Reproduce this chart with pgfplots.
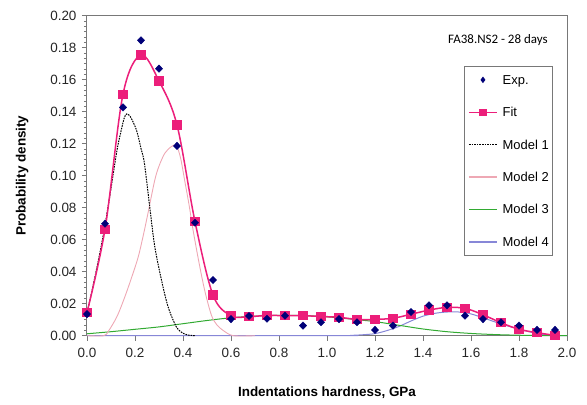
\documentclass[border=0pt]{standalone}
\usepackage{pgfplots}
\pgfplotsset{compat=1.18}
\usepackage{fontspec}
\setmainfont{Liberation Sans}
\newfontfamily\calibri{Carlito}
\definecolor{fitc}{RGB}{236,30,122}
\definecolor{expc}{RGB}{0,0,120}
\definecolor{modeltwo}{RGB}{238,168,180}
\definecolor{modelthree}{RGB}{50,170,50}
\definecolor{modelfour}{RGB}{135,135,215}
\definecolor{framec}{RGB}{120,120,120}
\begin{document}
\begin{tikzpicture}
\path (-87bp,-69.3bp) rectangle (500bp,335.7bp);
\begin{axis}[
  at={(0,0)}, anchor=south west,
  scale only axis, width=480bp, height=320bp,
  xmin=0, xmax=2, ymin=0, ymax=0.2,
  clip=false,
  xtick={0,0.2,0.4,0.6,0.8,1,1.2,1.4,1.6,1.8,2},
  ytick={0,0.02,0.04,0.06,0.08,0.1,0.12,0.14,0.16,0.18,0.2},
  minor y tick num=5,
  /pgf/number format/assume math mode=true,
  xticklabel style={/pgf/number format/fixed, /pgf/number format/fixed zerofill, /pgf/number format/precision=1, yshift=-4bp},
  yticklabel style={/pgf/number format/fixed, /pgf/number format/fixed zerofill, /pgf/number format/precision=2, xshift=-2bp},
  tick label style={font=\fontsize{13.5}{15}\selectfont, text=black!85},
  tick align=outside, tick pos=left,
  major tick length=5bp, minor tick length=3bp,
  every tick/.style={framec, line width=0.7bp},
  axis line style={framec, line width=1bp},
  xlabel={Indentations hardness, GPa},
  ylabel={Probability density},
  every axis x label/.style={at={(axis description cs:0.5,-0.179)}, anchor=center, font=\fontsize{13.5}{15}\selectfont\bfseries},
  every axis y label/.style={at={(axis description cs:-0.135,0.5)}, anchor=center, rotate=90, font=\fontsize{13.5}{15}\selectfont\bfseries},
  legend cell align=left,
  legend image code/.code={\draw[mark repeat=2, mark phase=2, #1] plot coordinates {(0bp,0bp) (14bp,0bp) (28bp,0bp)};},
  legend style={at={(axis description cs:0.785,0.843)}, anchor=north west,
    draw=framec, line width=0.8bp, font=\fontsize{13}{15}\selectfont,
    inner xsep=4bp, inner ysep=6.5bp, row sep=18.4bp,
    nodes={inner sep=0pt, text height=11.5bp, text depth=2.5bp},
    /tikz/every odd column/.append style={column sep=5bp}},
]
\addlegendimage{only marks, mark=diamond*, mark size=2.6bp, color=expc, mark options={fill=expc, draw=expc}}
\addlegendentry{Exp.}
\addlegendimage{color=fitc, line width=1.3bp, mark=square*, mark size=3bp, mark options={fill=fitc, draw=fitc}}
\addlegendentry{Fit}
\addlegendimage{color=black, line width=1bp, dash pattern=on 1.6bp off 1bp, no marks}
\addlegendentry{Model 1}
\addlegendimage{color=modeltwo, line width=1.5bp, no marks}
\addlegendentry{Model 2}
\addlegendimage{color=modelthree, line width=1.5bp, no marks}
\addlegendentry{Model 3}
\addlegendimage{color=modelfour, line width=1.5bp, no marks}
\addlegendentry{Model 4}

% Model 4
\addplot[forget plot, modelfour, line width=1bp, smooth, no marks] coordinates {
(0,0) (1.05,0) (1.1,0.0002) (1.15,0.0006) (1.2,0.0013) (1.25,0.0032) (1.3,0.0058)
(1.35,0.0092) (1.4,0.0122) (1.45,0.0140) (1.5,0.0148) (1.55,0.0148) (1.6,0.0136)
(1.65,0.0112) (1.7,0.0086) (1.75,0.0062) (1.8,0.0042) (1.85,0.0022) (1.9,0.0008)
(1.95,0.0002) (2.0,0)};
% Model 3
\addplot[forget plot, modelthree, line width=1bp, smooth, no marks] coordinates {
(0,0.0012) (0.1,0.0025) (0.2,0.0040) (0.3,0.0055) (0.4,0.0075) (0.5,0.0095)
(0.6,0.0112) (0.7,0.0122) (0.8,0.0127) (0.9,0.0126) (1.0,0.0118) (1.1,0.0104)
(1.2,0.0088) (1.3,0.0065) (1.4,0.0042) (1.5,0.0025) (1.6,0.0014) (1.7,0.0007)
(1.8,0.0003) (1.9,0.0001) (2.0,0)};
% Model 2
\addplot[forget plot, modeltwo, line width=0.9bp, smooth, no marks] coordinates {
(0,0) (0.07,0) (0.09,0.003) (0.125,0.012) (0.157,0.024) (0.185,0.036) (0.213,0.049)
(0.235,0.063) (0.254,0.0765) (0.282,0.097) (0.3,0.106) (0.324,0.114) (0.35,0.118)
(0.372,0.119) (0.39,0.111) (0.407,0.097) (0.425,0.082) (0.442,0.066) (0.465,0.047)
(0.49,0.0286) (0.518,0.013) (0.54,0.007) (0.57,0.003) (0.61,0) (0.7,0)};
% Model 1
\addplot[forget plot, black, line width=1bp, dash pattern=on 1.6bp off 1bp, smooth, no marks] coordinates {
(0,0.014) (0.025,0.031) (0.05,0.049) (0.074,0.068) (0.1,0.092) (0.125,0.116)
(0.143,0.1286) (0.155,0.136) (0.165,0.1386) (0.18,0.137) (0.206,0.1286)
(0.225,0.117) (0.239,0.108) (0.261,0.081) (0.282,0.056) (0.31,0.035)
(0.338,0.018) (0.372,0.0056) (0.4,0.0015) (0.42,0.0004) (0.45,0)};
% Fit
\addplot[forget plot, fitc, line width=1.5bp, smooth, tension=0.55, mark=square*, mark size=4bp, mark options={solid, fill=fitc, draw=fitc}] coordinates {
(0,0.0145) (0.075,0.0665) (0.15,0.1509) (0.225,0.1754) (0.3,0.1592) (0.375,0.1317)
(0.45,0.0713) (0.525,0.0254) (0.6,0.0125) (0.675,0.0119) (0.75,0.0127) (0.825,0.0125)
(0.9,0.0125) (0.975,0.0120) (1.05,0.0115) (1.125,0.0102) (1.2,0.0102) (1.275,0.0109)
(1.35,0.0134) (1.425,0.0160) (1.5,0.0177) (1.575,0.0171) (1.65,0.0131) (1.725,0.0081)
(1.8,0.0040) (1.875,0.0019) (1.95,0.0002)};
% Exp
\addplot[forget plot, only marks, mark=diamond*, mark size=3.7bp, mark options={fill=expc, draw=expc, xscale=1.3}] coordinates {
(0,0.0135) (0.075,0.070) (0.15,0.1427) (0.225,0.1846) (0.3,0.1669) (0.375,0.1186)
(0.45,0.0706) (0.525,0.0348) (0.6,0.0104) (0.675,0.0123) (0.75,0.0106) (0.825,0.0125)
(0.9,0.0063) (0.975,0.0084) (1.05,0.0104) (1.125,0.0084) (1.2,0.0036) (1.275,0.0063)
(1.35,0.0148) (1.425,0.0190) (1.5,0.0190) (1.575,0.0125) (1.65,0.0104) (1.725,0.0084)
(1.8,0.0063) (1.875,0.0036) (1.95,0.0036)};

\node[anchor=east, font=\calibri\fontsize{13}{15}\selectfont, inner sep=0pt] at (axis description cs:0.960,0.924) {FA38.NS2 - 28 days};
\end{axis}
\end{tikzpicture}
\end{document}
